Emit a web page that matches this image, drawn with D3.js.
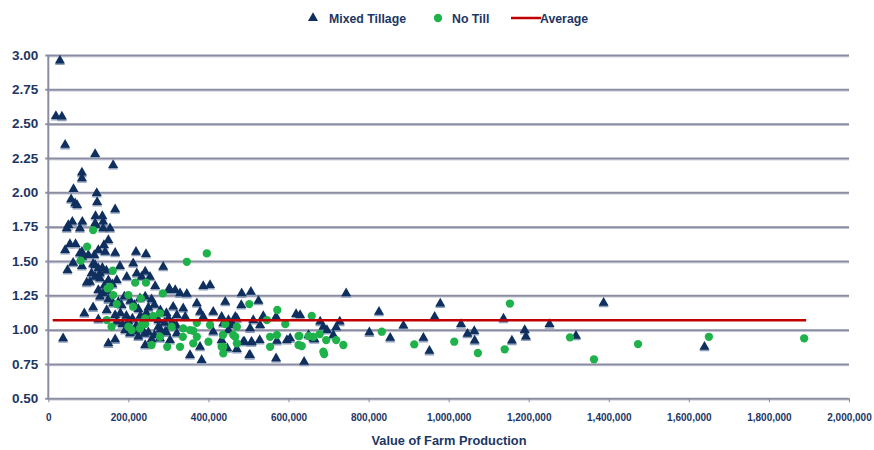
<!DOCTYPE html>
<html>
<head>
<meta charset="utf-8">
<script src="https://cdn.jsdelivr.net/npm/d3@7"></script>
<style>
  body { margin: 0; background: #fff; }
  svg { font-family: "Liberation Sans", Arial, sans-serif; }
  .ylab { font-size: 13.5px; font-weight: bold; fill: #1c3664; }
  .xlab { font-size: 10px; font-weight: bold; fill: #1c3664; }
  .legend-text { font-size: 12.3px; font-weight: bold; fill: #1c3664; }
  .axis-title { font-size: 12.8px; font-weight: bold; fill: #1c3664; }
</style>
</head>
<body>
<svg></svg>
<script>
// DATA (x in thousands of dollars, y ratio)

const mixedTillage = [
  [29,2.96],[19,2.556],[34,2.551],[42,2.345],[117,2.279],[162,2.199],[84,2.143],[84,2.102],[63,2.024],[121,1.995],[57,1.949],[67,1.92],[72,1.907],[122,1.929],[167,1.876],
  [60,1.786],[50,1.762],[46,1.738],[79,1.738],[85,1.786],[118,1.827],[135,1.827],[117,1.774],[137,1.786],[137,1.738],[154,1.738],[118,1.762],
  [42,1.58],[54,1.623],[68,1.623],[79,1.556],[84,1.567],[85,1.531],[150,1.653],[139,1.616],[125,1.58],[142,1.567],[167,1.56],[100,1.543],[115,1.543],[219,1.567],[244,1.551],
  [48,1.434],[62,1.487],[84,1.463],[117,1.47],[125,1.446],[108,1.41],[129,1.41],[117,1.385],[129,1.374],[104,1.349],[96,1.342],[112,1.48],[135,1.45],[145,1.43],
  [179,1.463],[212,1.483],[287,1.458],[242,1.422],[233,1.385],[254,1.385],[196,1.385],[171,1.361],[221,1.41],[150,1.36],[160,1.33],[140,1.32],
  [267,1.318],[387,1.318],[404,1.325],[302,1.301],[304,1.288],[317,1.288],[329,1.264],[346,1.26],[125,1.288],[137,1.264],[129,1.24],[148,1.28],
  [229,1.228],[242,1.24],[258,1.22],[112,1.162],[90,1.119],[125,1.075],[146,1.143],[162,1.192],[167,1.106],[183,1.179],[171,1.058],
  [150,1.22],[175,1.20],[190,1.24],[205,1.21],[215,1.18],[225,1.15],[250,1.16],[265,1.18],[280,1.14],[295,1.12],[180,1.12],[195,1.10],[210,1.08],[230,1.10],[245,1.12],[260,1.09],[275,1.07],[290,1.05],[300,1.08],[185,1.04],[200,1.06],[220,1.03],[235,1.00],[250,0.98],[265,0.96],[280,1.00],[295,0.98],[310,1.05],[320,1.03],[225,0.95],[258,0.93],[240,0.97],
  [37,0.937],[150,0.9],[167,0.929],[192,0.997],[204,0.973],[217,0.985],[242,0.888],[279,0.937],[304,0.924],[275,1.021],[292,0.985],[304,1.021],
  [442,1.203],[483,1.264],[506,1.276],[525,1.21],[371,1.192],[482,1.179],[312,1.167],[337,1.155],[321,1.106],[342,1.094],[379,1.13],[412,1.13],[387,1.094],[433,1.094],[450,1.07],[471,1.082],[437,1.046],[458,1.034],[504,1.009],[529,1.034],[537,1.099],[569,1.094],[512,1.07],[467,1.094],[619,1.114],
  [321,0.973],[412,0.985],[379,0.875],[354,0.815],[383,0.779],[504,0.815],[487,0.912],[508,0.912],[528,0.924],[450,0.997],[462,1.034],[433,0.924],[447,0.864],[471,0.859],[490,0.912],[507,0.908],[502,0.815],[571,0.918],[569,0.791],[596,0.924],[604,0.937],[639,0.766],[650,0.961],[665,0.93],
  [629,1.106],[679,1.058],[687,1.021],[696,0.997],[712,0.961],[719,1.017],[728,1.058],[662,0.937],[744,1.265],[802,0.98],[826,1.13],[854,0.94],[887,1.03],[937,0.94],[952,0.845],[965,1.094],[979,1.19],
  [1031,1.04],[1047,0.97],[1064,0.99],[1065,0.92],[1137,1.08],[1158,0.92],[1190,0.997],[1193,0.95],[1252,1.04],[1318,0.955],[1387,1.196],[1639,0.875]
];

const noTill = [
  [112,1.725],[97,1.604],[81,1.502],[161,1.429],[217,1.342],[244,1.342],[154,1.312],[148,1.301],[162,1.252],[200,1.252],[231,1.228],[286,1.264],[346,1.494],[396,1.556],
  [171,1.186],[212,1.167],[146,1.07],[158,1.021],[262,1.099],[242,1.041],[242,1.082],[279,1.119],[308,1.021],[337,1.009],[371,1.05],[404,1.034],[442,1.041],[471,1.021],[200,1.021],[229,1.009],[208,0.997],[233,1.034],
  [258,0.888],[297,0.875],[336,0.948],[362,0.90],[400,0.912],[437,0.827],[437,0.875],[462,0.961],[279,0.948],[329,0.875],[436,0.961],[467,0.948],[471,0.90],[354,0.997],[362,0.992],[371,0.948],[433,0.875],
  [502,1.186],[572,1.143],[546,1.07],[592,1.04],[658,1.10],[554,0.948],[571,0.961],[625,0.953],[625,0.888],[554,0.875],[627,0.954],[650,0.953],[662,0.948],[678,0.968],[633,0.881],[694,0.924],[719,0.924],[737,0.888],[687,0.839],[689,0.822],
  [833,0.985],[914,0.893],[1014,0.912],[1073,0.83],[1140,0.857],[1153,1.19],[1303,0.944],[1363,0.784],[1473,0.895],[1650,0.948],[1888,0.937]
];

const average = [[11,1.068],[1893,1.068]];

const yTicks = [0.5,0.75,1.0,1.25,1.5,1.75,2.0,2.25,2.5,2.75,3.0];
const xTicks = [0,200,400,600,800,1000,1200,1400,1600,1800,2000];
const xTickLabels = ["0","200,000","400,000","600,000","800,000","1,000,000","1,200,000","1,400,000","1,600,000","1,800,000","2,000,000"];
const legendItems = ["Mixed Tillage","No Till","Average"];

// LAYOUT

const WIDTH = 874, HEIGHT = 450;
const PLOT = {left: 48.3, right: 849, top: 55, bottom: 398.3};
const NAVY = "#0f2f5e";
const GREEN = "#1fb24b";
const RED = "#c00000";
const GRID = "#8a8ca1";

const svg = d3.select("svg").attr("width", WIDTH).attr("height", HEIGHT);

const x = d3.scaleLinear().domain([0, 2000]).range([PLOT.left, PLOT.right]);
const y = d3.scaleLinear().domain([0.5, 3.0]).range([PLOT.bottom, PLOT.top]);

// gridlines + y labels
const yAxis = svg.append("g")
  .attr("transform", `translate(${PLOT.left},0)`)
  .call(d3.axisLeft(y).tickValues(yTicks).tickFormat(d3.format(".2f"))
    .tickSize(-(PLOT.right - PLOT.left)).tickPadding(10));
yAxis.select(".domain").remove();
yAxis.selectAll(".tick line").attr("x1", -3).attr("stroke", GRID).attr("stroke-width", 2);
yAxis.selectAll(".tick text").attr("class", "ylab").attr("x", -10);
// faint shadow under gridlines
svg.insert("g", ":first-child").selectAll("line").data(yTicks).enter().append("line")
  .attr("x1", PLOT.left).attr("x2", PLOT.right)
  .attr("y1", d => y(d) + 1.8).attr("y2", d => y(d) + 1.8)
  .attr("stroke", "#d4d6e0").attr("stroke-width", 1.2);

// vertical axis line
svg.append("line")
  .attr("x1", PLOT.left).attr("x2", PLOT.left)
  .attr("y1", y(3.0)).attr("y2", y(0.5))
  .attr("stroke", GRID).attr("stroke-width", 2);

// x axis
const xAxis = svg.append("g")
  .attr("transform", `translate(0,${PLOT.bottom})`)
  .call(d3.axisBottom(x).tickValues(xTicks).tickFormat((d, i) => xTickLabels[i])
    .tickSize(4).tickPadding(12));
xAxis.select(".domain").remove();
xAxis.selectAll(".tick line").attr("stroke", GRID).attr("stroke-width", 1);
xAxis.selectAll(".tick text").attr("class", "xlab");

const chart = svg.append("g");

const tri = d3.symbol().type(d3.symbolTriangle).size(44);
const dot = d3.symbol().type(d3.symbolCircle).size(54);

// marker shadows
chart.selectAll(".tri-shadow").data(mixedTillage).enter().append("path")
  .attr("d", tri)
  .attr("transform", d => `translate(${x(d[0])},${y(d[1]) + 1.6})`)
  .attr("fill", "#8fa0bd");

chart.selectAll(".tri").data(mixedTillage).enter().append("path")
  .attr("class", "tri")
  .attr("d", tri)
  .attr("transform", d => `translate(${x(d[0])},${y(d[1])})`)
  .attr("fill", NAVY);

chart.selectAll(".dot").data(noTill).enter().append("path")
  .attr("class", "dot")
  .attr("d", dot)
  .attr("transform", d => `translate(${x(d[0])},${y(d[1])})`)
  .attr("fill", GREEN);

chart.append("path")
  .datum(average)
  .attr("d", d3.line().x(d => x(d[0])).y(d => y(d[1])))
  .attr("stroke", RED).attr("stroke-width", 2.5).attr("fill", "none");

// legend
const legend = svg.append("g").attr("transform", "translate(0,19)");
legend.append("path").attr("d", tri).attr("transform", "translate(313,-1)").attr("fill", NAVY);
legend.append("text").attr("class", "legend-text").attr("x", 329).attr("y", 4).text(legendItems[0]);
legend.append("path").attr("d", dot).attr("transform", "translate(438,-1)").attr("fill", GREEN);
legend.append("text").attr("class", "legend-text").attr("x", 452).attr("y", 4).text(legendItems[1]);
legend.append("line").attr("x1", 511).attr("x2", 541).attr("y1", -1).attr("y2", -1)
  .attr("stroke", RED).attr("stroke-width", 2.5);
legend.append("text").attr("class", "legend-text").attr("x", 540).attr("y", 4).text(legendItems[2]);

svg.append("text").attr("class", "axis-title")
  .attr("x", 449).attr("y", 445).attr("text-anchor", "middle")
  .text("Value of Farm Production");
</script>
</body>
</html>
